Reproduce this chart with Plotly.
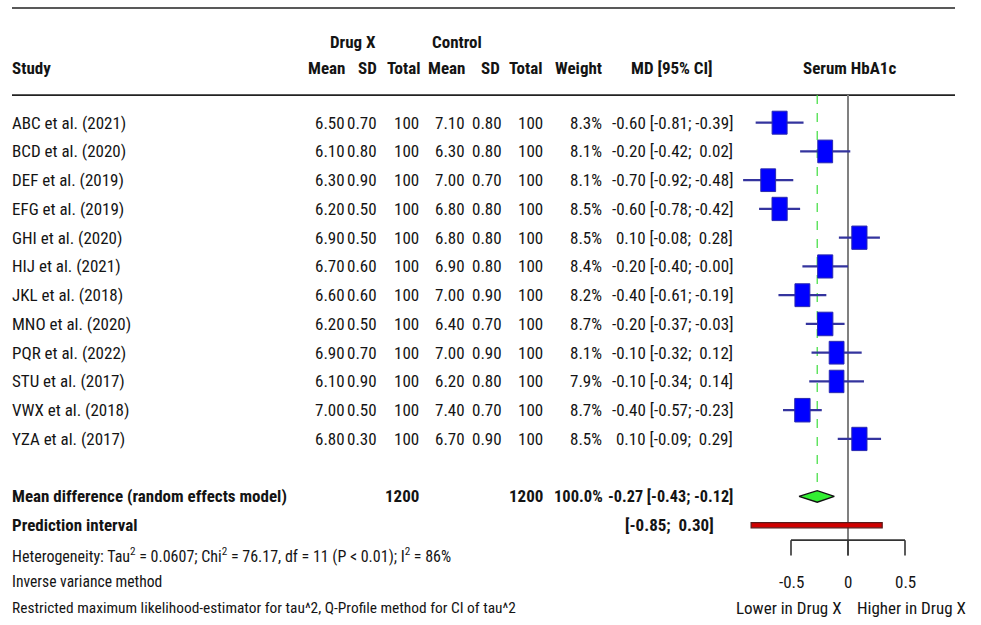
import plotly.graph_objects as go

# ---------------- data ----------------
studies = ["ABC et al. (2021)", "BCD et al. (2020)", "DEF et al. (2019)", "EFG et al. (2019)",
           "GHI et al. (2020)", "HIJ et al. (2021)", "JKL et al. (2018)", "MNO et al. (2020)",
           "PQR et al. (2022)", "STU et al. (2017)", "VWX et al. (2018)", "YZA et al. (2017)"]
drug_mean = [6.50, 6.10, 6.30, 6.20, 6.90, 6.70, 6.60, 6.20, 6.90, 6.10, 7.00, 6.80]
drug_sd = [0.70, 0.80, 0.90, 0.50, 0.50, 0.60, 0.60, 0.50, 0.70, 0.90, 0.50, 0.30]
drug_n = [100] * 12
ctrl_mean = [7.10, 6.30, 7.00, 6.80, 6.80, 6.90, 7.00, 6.40, 7.00, 6.20, 7.40, 6.70]
ctrl_sd = [0.80, 0.80, 0.70, 0.80, 0.80, 0.80, 0.90, 0.70, 0.90, 0.80, 0.70, 0.90]
ctrl_n = [100] * 12
weights = [8.3, 8.1, 8.1, 8.5, 8.5, 8.4, 8.2, 8.7, 8.1, 7.9, 8.7, 8.5]
md = [-0.60, -0.20, -0.70, -0.60, 0.10, -0.20, -0.40, -0.20, -0.10, -0.10, -0.40, 0.10]
ci_low = [-0.81, -0.42, -0.92, -0.78, -0.08, -0.40, -0.61, -0.37, -0.32, -0.34, -0.57, -0.09]
ci_high = [-0.39, 0.02, -0.48, -0.42, 0.28, -0.0, -0.19, -0.03, 0.12, 0.14, -0.23, 0.29]

pooled_n_drug = 1200
pooled_n_ctrl = 1200
pooled_weight = 100.0
pooled_md = -0.27
pooled_low = -0.43
pooled_high = -0.12
pred_low = -0.85
pred_high = 0.30
axis_ticks = [-0.5, 0, 0.5]
axis_tick_labels = ["-0.5", "0", "0.5"]

# ---------------- layout helpers ----------------
W, H = 981, 625
FONT = "Roboto Condensed, DejaVu Sans Condensed, Liberation Sans Narrow, Arial Narrow, sans-serif"
FS = 17
TXT = "#141414"
X0PX, PXU = 848.0, 114.0       # pixel of x=0, pixels per unit
ROW0PX, ROWPX = 122.7, 28.75   # pixel of row 0, pixels per row


def px(p):
    return p / W


def fmt_signed(v):
    s = f"{v:.2f}"
    return s if s.startswith("-") else "\u00a0" + s


fig = go.Figure()
ann = []
shapes = []


def text(x_px, row, s, anchor="right", bold=False, size=FS):
    ann.append(dict(x=px(x_px), xref="paper", y=row, yref="y", text=f"<b>{s}</b>" if bold else s,
                    showarrow=False, xanchor=anchor, yanchor="middle", borderpad=0, borderwidth=0,
                    font=dict(family=FONT, size=size, color=TXT)))


# header
text(353, -2.81, "Drug X", anchor="center", bold=True)
text(457, -2.81, "Control", anchor="center", bold=True)
text(12, -1.90, "Study", anchor="left", bold=True)
for xr, lab in [(345, "Mean"), (377, "SD"), (421, "Total"), (465, "Mean"), (500, "SD"),
                (543, "Total"), (602, "Weight")]:
    text(xr, -1.90, lab, bold=True)
text(672, -1.90, "MD [95% CI]", anchor="center", bold=True)
text(849, -1.90, "Serum HbA1c", anchor="center", bold=True)

# study rows
for i, s in enumerate(studies):
    text(12, i, s, anchor="left")
    text(345, i, f"{drug_mean[i]:.2f}")
    text(377, i, f"{drug_sd[i]:.2f}")
    text(419, i, f"{drug_n[i]}")
    text(465, i, f"{ctrl_mean[i]:.2f}")
    text(502, i, f"{ctrl_sd[i]:.2f}")
    text(543, i, f"{ctrl_n[i]}")
    text(602, i, f"{weights[i]:.1f}%")
    text(733, i, f"{fmt_signed(md[i])} [{fmt_signed(ci_low[i]).strip()}; {fmt_signed(ci_high[i])}]")

# summary rows
r_sum, r_pred = 13, 14
text(12, r_sum, "Mean difference (random effects model)", anchor="left", bold=True)
text(419, r_sum, f"{pooled_n_drug}", bold=True)
text(543, r_sum, f"{pooled_n_ctrl}", bold=True)
text(603, r_sum, f"{pooled_weight:.1f}%", bold=True, size=16.5)
text(733, r_sum, f"{pooled_md:.2f} [{pooled_low:.2f}; {pooled_high:.2f}]", bold=True, size=16.2)
text(12, r_pred, "Prediction interval", anchor="left", bold=True)
text(714, r_pred, f"[{pred_low:.2f}; {fmt_signed(pred_high)}]", bold=True)

text(12, 15.07, "Heterogeneity: Tau<sup>2</sup> = 0.0607; Chi<sup>2</sup> = 76.17, df = 11 (P < 0.01); I<sup>2</sup> = 86%",
     anchor="left", size=16)
text(12, 15.97, "Inverse variance method", anchor="left", size=15.6)
text(12, 16.88, "Restricted maximum likelihood-estimator for tau^2, Q-Profile method for CI of tau^2",
     anchor="left", size=15.4)

# axis labels
for t, lab in zip(axis_ticks, axis_tick_labels):
    ann.append(dict(x=t, xref="x", y=15.97, yref="y", text=lab, showarrow=False,
                    xanchor="center", yanchor="middle", borderpad=0, borderwidth=0,
                    font=dict(family=FONT, size=FS, color=TXT)))
text(842, 16.88, "Lower in Drug X", anchor="right")
text(857, 16.88, "Higher in Drug X", anchor="left")

# horizontal rules
for row in (-3.99, -0.96):
    shapes.append(dict(type="line", xref="paper", yref="y", x0=px(12), x1=px(955), y0=row, y1=row,
                       line=dict(color="#222222", width=1.6), layer="below"))

# reference line at zero
shapes.append(dict(type="line", xref="x", yref="y", x0=0, x1=0, y0=-0.96, y1=15.05,
                   line=dict(color="#808080", width=2), layer="below"))
# pooled estimate dashed line
shapes.append(dict(type="line", xref="x", yref="y", x0=pooled_md, x1=pooled_md, y0=-0.96, y1=r_sum - 0.2,
                   line=dict(color="#3ddd3d", width=1.2, dash="dash"), layer="below"))

# axis line and ticks
shapes.append(dict(type="line", xref="x", yref="y", x0=axis_ticks[0], x1=axis_ticks[-1], y0=14.52, y1=14.52,
                   line=dict(color="#333333", width=1.6)))
for t in axis_ticks:
    shapes.append(dict(type="line", xref="x", yref="y", x0=t, x1=t, y0=14.52, y1=15.05,
                       line=dict(color="#333333", width=1.6)))

# CI lines
ci_x, ci_y = [], []
for i in range(len(studies)):
    ci_x += [ci_low[i], ci_high[i], None]
    ci_y += [i, i, None]
fig.add_trace(go.Scatter(x=ci_x, y=ci_y, mode="lines", line=dict(color="#34349e", width=2.2),
                         hoverinfo="skip", showlegend=False))

# boxes (area ~ weight)
for i in range(len(studies)):
    sc = (weights[i] / 8.3) ** 0.5
    hw = 7.5 / PXU * sc
    hh = 0.40 * sc
    shapes.append(dict(type="rect", xref="x", yref="y", x0=md[i] - hw, x1=md[i] + hw,
                       y0=i - hh, y1=i + hh, fillcolor="#0000ff",
                       line=dict(color="#2a2ab0", width=1), layer="above"))

# pooled diamond
fig.add_trace(go.Scatter(x=[pooled_low, pooled_md, pooled_high, pooled_md, pooled_low],
                         y=[r_sum, r_sum - 0.2, r_sum, r_sum + 0.2, r_sum],
                         mode="lines", fill="toself", fillcolor="#33ee33",
                         line=dict(color="#111111", width=1.3), hoverinfo="skip", showlegend=False))

# prediction interval bar
shapes.append(dict(type="rect", xref="x", yref="y", x0=pred_low, x1=pred_high,
                   y0=r_pred - 0.09, y1=r_pred + 0.09, fillcolor="#d00000",
                   line=dict(color="#5a1a1a", width=1.2), layer="above"))

fig.update_layout(
    width=W, height=H, margin=dict(l=0, r=0, t=0, b=0),
    paper_bgcolor="white", plot_bgcolor="white",
    xaxis=dict(range=[-X0PX / PXU, (W - X0PX) / PXU], visible=False, fixedrange=True),
    yaxis=dict(range=[(H - ROW0PX) / ROWPX, -ROW0PX / ROWPX], visible=False, fixedrange=True),
    annotations=ann, shapes=shapes, showlegend=False,
)

fig.write_html("out.html", config={"displayModeBar": False},
               post_script="document.body.style.margin='0px';")
